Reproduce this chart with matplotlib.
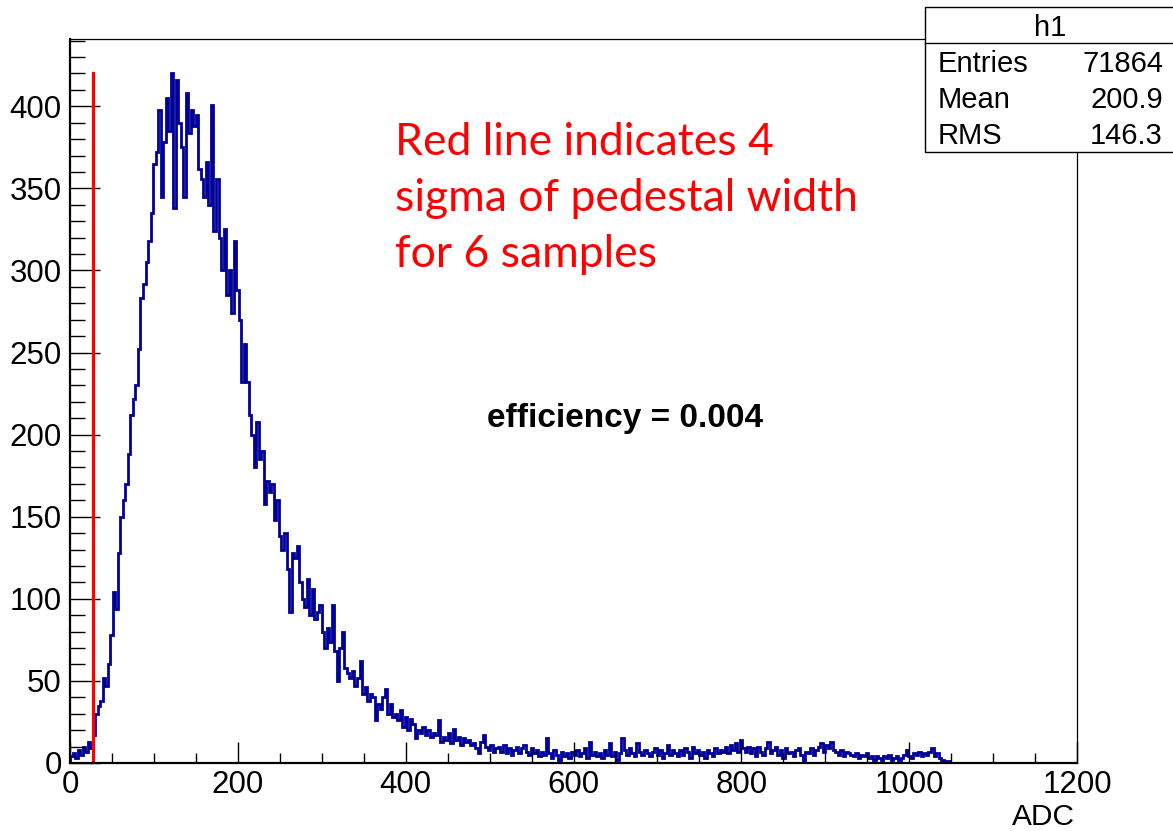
import numpy as np
import matplotlib.pyplot as plt
from matplotlib.patches import Rectangle
from matplotlib.lines import Line2D

# bins of 3 ADC starting at 0
bin_width = 3
counts_0_150 = [
    4, 6, 3, 8, 5, 10, 7, 13, 9, 17,
    30, 35, 38, 52, 47, 60, 78, 104, 94, 128,
    150, 160, 170, 188, 212, 222, 230, 252, 283, 292,
    305, 318, 335, 365, 372, 398, 345, 378, 405, 385,
    420, 338, 416, 390, 375, 345, 408, 384, 398, 388,
]
counts_150_300 = [
    395, 362, 356, 345, 366, 340, 401, 324, 356, 320,
    300, 325, 285, 300, 274, 318, 288, 270, 232, 255,
    232, 212, 200, 180, 208, 185, 190, 158, 172, 165,
    170, 148, 160, 138, 130, 140, 118, 92, 128, 125,
    132, 110, 100, 95, 112, 90, 106, 88, 92, 96,
]
counts_300_450 = [
    80, 70, 82, 74, 96, 68, 50, 70, 80, 58,
    55, 52, 56, 47, 52, 62, 42, 46, 38, 42,
    40, 26, 36, 33, 40, 45, 30, 36, 28, 30,
    26, 32, 22, 28, 20, 27, 24, 15, 20, 18,
    22, 17, 20, 16, 18, 17, 26, 13, 16, 14,
]
counts_450_750 = [
    18, 12, 21, 14, 16, 11, 15, 13, 14, 11,
    12, 9, 6, 13, 17, 10, 8, 11, 7, 9,
    10, 7, 11, 6, 9, 5, 8, 10, 6, 9,
    11, 7, 5, 9, 6, 8, 4, 7, 5, 15,
    6, 3, 8, 5, 2, 7, 4, 6, 3, 7,
    5, 8, 4, 6, 9, 3, 13, 5, 7, 4,
    6, 3, 8, 5, 12, 4, 7, 2, 6, 15,
    8, 5, 9, 6, 4, 12, 7, 5, 8, 6,
    4, 7, 9, 5, 8, 3, 6, 11, 5, 8,
    6, 4, 8, 5, 9, 7, 3, 10, 6, 8,
]
counts_750_1050 = [
    5, 7, 3, 8, 6, 4, 9, 6, 8, 7,
    10, 6, 11, 8, 12, 7, 14, 9, 7, 10,
    6, 9, 4, 10, 7, 5, 9, 13, 6, 8,
    10, 5, 8, 3, 9, 6, 7, 4, 8, 9,
    5, 1, 7, 6, 9, 5, 8, 10, 12, 7,
    11, 9, 13, 8, 7, 5, 8, 4, 7, 6,
    5, 4, 6, 3, 5, 4, 6, 3, 4, 2,
    4, 3, 2, 4, 3, 5, 2, 3, 4, 2,
    3, 5, 8, 4, 3, 6, 5, 7, 4, 6,
    5, 7, 9, 4, 6, 3, 2, 1, 1, 0,
]

cut_adc = 28
stats_rows = [("Entries", "71864"), ("Mean", "200.9"), ("RMS", "146.3")]

W, H = 1173, 831


def fx(px):
    return px / W


def fy(py):
    return 1 - py / H


def main():
    plt.rcParams['font.family'] = ['Liberation Sans', 'DejaVu Sans']
    counts = np.array(counts_0_150 + counts_150_300 + counts_300_450
                      + counts_450_750 + counts_750_1050)
    edges = np.arange(len(counts) + 1) * bin_width

    fig = plt.figure(figsize=(W / 100, H / 100), dpi=100)
    ax = fig.add_axes([fx(70), fy(763), fx(1077) - fx(70), fy(39) - fy(763)])

    ax.stairs(counts, edges, color='#000099', linewidth=2.0)
    ax.plot([cut_adc, cut_adc], [0, counts.max()], color='#ff0000', linewidth=2.3)

    ax.set_xlim(0, 1200)
    ax.set_ylim(0, 441)
    ax.set_xticks(np.arange(0, 1201, 200))
    ax.set_xticks(np.arange(0, 1201, 50), minor=True)
    ax.set_yticks(np.arange(0, 401, 50))
    ax.set_yticks(np.arange(0, 441, 10), minor=True)
    ax.tick_params(axis='both', which='both', direction='in', width=1,
                   labelsize=22.5, top=False, right=False)
    ax.tick_params(axis='y', which='major', length=21.5, pad=6)
    ax.tick_params(axis='y', which='minor', length=10.8)
    ax.tick_params(axis='x', which='major', length=15, pad=5)
    ax.tick_params(axis='x', which='minor', length=7.5)
    for side in ('left', 'bottom'):
        ax.spines[side].set_linewidth(1.6)
    for side in ('top', 'right'):
        ax.spines[side].set_linewidth(0.9)

    fig.text(fx(1075), fy(825), "ADC", fontsize=21.5, ha='right', va='baseline')

    # stats box
    fig.patches.append(Rectangle((fx(925), fy(152)), fx(1200) - fx(925), fy(7) - fy(152),
                                 transform=fig.transFigure, facecolor='white',
                                 edgecolor='black', linewidth=1.0, zorder=5))
    fig.lines.append(Line2D([fx(925), fx(1173)], [fy(42.5), fy(42.5)],
                            transform=fig.transFigure, color='black', linewidth=1.0, zorder=6))
    fig.text(fx(1050), fy(36), "h1", fontsize=21, ha='center', va='baseline', zorder=7)
    for i, (name, val) in enumerate(stats_rows):
        base = 72 + i * 36
        fig.text(fx(938), fy(base), name, fontsize=21, ha='left', va='baseline', zorder=7)
        fig.text(fx(1163), fy(base), val, fontsize=21, ha='right', va='baseline', zorder=7)

    red_lines = ["Red line indicates 4", "sigma of pedestal width", "for 6 samples"]
    for i, line in enumerate(red_lines):
        fig.text(fx(395), fy(155 + i * 56), line, fontsize=32, color='#ff0000',
                 family=['Lato', 'DejaVu Sans'], ha='left', va='baseline')

    fig.text(fx(487), fy(427), "efficiency = 0.004", fontsize=24, fontweight='bold',
             ha='left', va='baseline')

    fig.savefig('out.png', dpi=100)


if __name__ == "__main__":
    main()
